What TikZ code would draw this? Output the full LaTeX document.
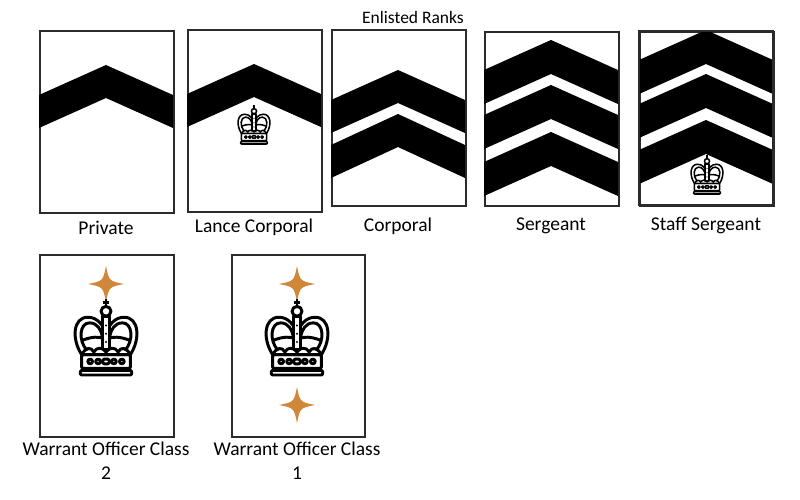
\documentclass[tikz,border=0pt]{standalone}
\usepackage{fontspec}
\setmainfont{Carlito}
\usepackage{tikz}
\usetikzlibrary{positioning}

\definecolor{starorange}{HTML}{D0873A}
\definecolor{boxgrey}{HTML}{2B2B2B}

\tikzset{
    rankbox/.style={draw=boxgrey, line width=2pt, fill=white, inner sep=0pt, anchor=north west},
    ranklabel/.style={font=\fontsize{19.5}{24}\selectfont, align=center},
}

% chevron: left x, right x, apex y, edge y, thickness
\newcommand{\chev}[5]{%
    \fill[black] (#1,#4) -- ({(#1+#2)/2},#3) -- (#2,#4) -- (#2,#4+#5) -- ({(#1+#2)/2},#3+#5) -- (#1,#4+#5) -- cycle;}

% crown: centre x, centre y, scale
\newcommand{\crownmark}[3]{%
    \begin{scope}[shift={(#1,#2)}, x=#3pt, y=#3pt, line width=0.09*#3pt, line join=round]
        % base and band
        \draw[fill=white, rounded corners=0.04*#3pt] (-0.78,-1.0) rectangle (0.78,-0.86);
        \draw[fill=white, rounded corners=0.04*#3pt] (-0.74,-0.8) rectangle (0.74,-0.38);
        \foreach \cx in {-0.48,-0.24,0.24,0.48} \draw (\cx,-0.59) circle (0.07);
        \draw[rounded corners=0.05*#3pt] (-0.11,-0.66) rectangle (0.11,-0.52);
        % arches
        \draw[fill=white] (-0.74,-0.38) .. controls (-1.05,0.1) and (-1.0,0.75) .. (-0.55,0.75)
            .. controls (-0.25,0.75) and (-0.1,0.5) .. (0,0.3)
            .. controls (0.1,0.5) and (0.25,0.75) .. (0.55,0.75)
            .. controls (1.0,0.75) and (1.05,0.1) .. (0.74,-0.38) -- cycle;
        \draw (-0.58,-0.25) .. controls (-0.85,0.05) and (-0.8,0.58) .. (-0.5,0.58)
            .. controls (-0.25,0.58) and (-0.15,0.35) .. (-0.12,0.2);
        \draw (0.58,-0.25) .. controls (0.85,0.05) and (0.8,0.58) .. (0.5,0.58)
            .. controls (0.25,0.58) and (0.15,0.35) .. (0.12,0.2);
        \draw (-0.72,0.05) .. controls (-0.4,0.18) and (-0.2,0.15) .. (-0.12,0.12);
        \draw (0.72,0.05) .. controls (0.4,0.18) and (0.2,0.15) .. (0.12,0.12);
        % rim waves
        \draw (-0.74,-0.38) .. controls (-0.6,-0.15) and (-0.45,-0.15) .. (-0.37,-0.3)
            .. controls (-0.28,-0.15) and (-0.1,-0.15) .. (0,-0.3)
            .. controls (0.1,-0.15) and (0.28,-0.15) .. (0.37,-0.3)
            .. controls (0.45,-0.15) and (0.6,-0.15) .. (0.74,-0.38);
        % pillar, orb and cross
        \draw[fill=white] (-0.12,-0.24) rectangle (0.12,0.78);
        \foreach \cy in {0.0,0.25,0.5} \fill (0,\cy) circle (0.035);
        \draw[fill=white] (0,0.93) circle (0.15);
        \draw (0,1.08) -- (0,1.3) (-0.08,1.2) -- (0.08,1.2);
    \end{scope}}

% four point star: centre x, centre y
\newcommand{\starmark}[2]{%
    \fill[starorange] (#1,#2-18) .. controls (#1+3,#2-3) .. (#1+18,#2)
        .. controls (#1+3,#2+3) .. (#1,#2+18)
        .. controls (#1-3,#2+3) .. (#1-18,#2)
        .. controls (#1-3,#2-3) .. (#1,#2-18) -- cycle;}

\begin{document}
\begin{tikzpicture}[x=1pt, y=-1pt]
    \useasboundingbox (0,0) rectangle (800,500);

    \node[font=\fontsize{17.5}{21}\selectfont] (title) at (413,17) {Enlisted Ranks};

    % Private
    \node[rankbox, minimum width=134pt, minimum height=182pt] (pvt) at (39,30) {};
    \chev{39}{173}{65}{95}{33}
    \node[ranklabel] (pvtlbl) at (106,228) {Private};

    % Lance Corporal
    \node[rankbox, minimum width=134pt, minimum height=182pt] (lcpl) at (187,29) {};
    \chev{187}{321}{64}{94}{33}
    \crownmark{254}{127}{17}
    \node[ranklabel] (lcpllbl) at (254,227) {Lance Corporal};

    % Corporal
    \node[rankbox, minimum width=134pt, minimum height=176pt] (cpl) at (331,29) {};
    \chev{331}{465}{70}{100}{33}
    \chev{331}{465}{114}{145}{33}
    \node[ranklabel] (cpllbl) at (398,226) {Corporal};

    % Sergeant
    \node[rankbox, minimum width=134pt, minimum height=174pt] (sgt) at (484,31) {};
    \chev{484}{618}{40}{70}{34}
    \chev{484}{618}{85}{115}{34}
    \chev{484}{618}{132}{162}{34}
    \node[ranklabel] (sgtlbl) at (551,226) {Sergeant};

    % Staff Sergeant
    \node[rankbox, minimum width=134pt, minimum height=174pt] (ssgt) at (639,31) {};
    \begin{scope}
        \clip (639,31) rectangle (773,205);
        \chev{639}{773}{30}{60}{34}
        \chev{639}{773}{74}{104}{34}
        \chev{639}{773}{120}{150}{34}
    \end{scope}
    \draw[boxgrey, line width=2pt] (639,31) rectangle (773,205);
    \crownmark{707}{177}{17}
    \node[ranklabel] (ssgtlbl) at (706,225) {Staff Sergeant};

    % Warrant Officer Class 2
    \node[rankbox, minimum width=134pt, minimum height=182pt] (wo2) at (39,254) {};
    \starmark{106}{284}
    \crownmark{106}{342}{33}
    \node[ranklabel] (wo2lbl) at (106,461) {Warrant Officer Class\\2};

    % Warrant Officer Class 1
    \node[rankbox, minimum width=133pt, minimum height=182pt] (wo1) at (231,254) {};
    \starmark{297}{284}
    \crownmark{297}{342}{33}
    \starmark{297}{405}
    \node[ranklabel] (wo1lbl) at (297,461) {Warrant Officer Class\\1};
\end{tikzpicture}
\end{document}
